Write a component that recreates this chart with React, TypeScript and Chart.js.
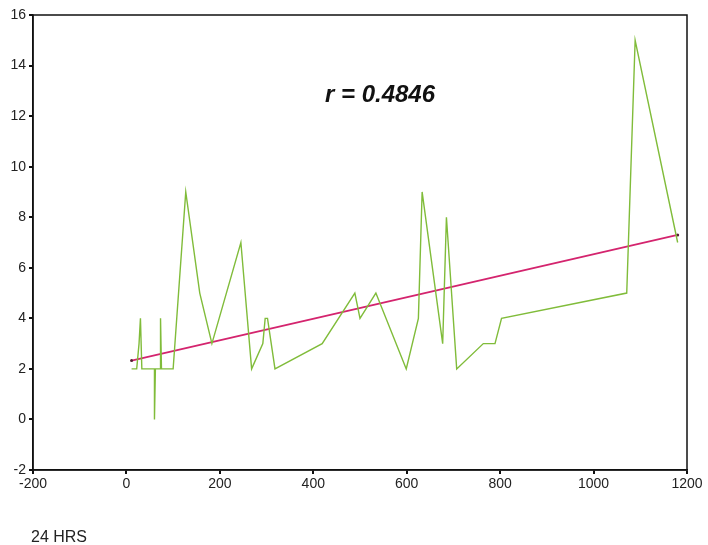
import React, { useEffect, useRef } from "react";
import { Chart, registerables } from "chart.js";

Chart.register(...registerables);

// Hours (x) and measured values (y) of the green series
const hrsX = [11, 22, 27, 30, 33, 60, 60, 62, 72, 73, 75, 100, 127, 157, 183, 245, 268, 292, 297, 302, 318, 419, 489, 500, 534, 599, 625, 633, 677, 685, 707, 764, 789, 803, 1071, 1089, 1180];
const values = [2, 2, 3, 4, 2, 2, 0, 2, 2, 4, 2, 2, 9, 5, 3, 7, 2, 3, 4, 4, 2, 3, 5, 4, 5, 2, 4, 9, 3, 8, 2, 3, 3, 4, 5, 15, 7];

// Fitted regression line ends
const fitX = [11, 1180];
const fitY = [2.33, 7.3];

const xTicks = [-200, 0, 200, 400, 600, 800, 1000, 1200];
const yTicks = [-2, 0, 2, 4, 6, 8, 10, 12, 14, 16];

const rLabel = "r = 0.4846";
const xTitle = "24 HRS";

export default function App() {
  const ref = useRef<HTMLCanvasElement>(null);

  useEffect(() => {
    document.body.style.margin = "0";
    const textPlugin = {
      id: "texts",
      afterDraw(chart: any) {
        const { ctx, chartArea } = chart;
        ctx.save();
        ctx.strokeStyle = "#111";
        ctx.lineWidth = 1.5;
        ctx.strokeRect(chartArea.left, chartArea.top, chartArea.right - chartArea.left, chartArea.bottom - chartArea.top);
        ctx.fillStyle = "#111";
        ctx.font = "italic bold 24px 'Liberation Sans', Arial, sans-serif";
        ctx.textAlign = "center";
        ctx.textBaseline = "middle";
        ctx.fillText(rLabel, 380, 95);
        ctx.font = "16px 'Liberation Sans', Arial, sans-serif";
        ctx.textAlign = "left";
        ctx.fillStyle = "#222";
        ctx.fillText(xTitle, 31, 538);
        ctx.restore();
      },
    };

    const chart = new Chart(ref.current!, {
      type: "scatter",
      data: {
        datasets: [
          {
            data: hrsX.map((x, i) => ({ x, y: values[i] })),
            showLine: true,
            borderColor: "#80bc3a",
            borderWidth: 1.4,
            pointRadius: 0,
            tension: 0,
          },
          {
            data: fitX.map((x, i) => ({ x, y: fitY[i] })),
            showLine: true,
            borderColor: "#d4246e",
            borderWidth: 1.8,
            pointRadius: 1.5,
            pointBackgroundColor: "#552233",
            pointBorderWidth: 0,
          },
        ],
      },
      options: {
        animation: false,
        responsive: false,
        layout: { padding: { left: 0, right: 21, top: 15, bottom: 45 } },
        plugins: { legend: { display: false }, tooltip: { enabled: false } },
        scales: {
          x: {
            type: "linear",
            min: -200,
            max: 1200,
            afterBuildTicks: (s: any) => { s.ticks = xTicks.map((v) => ({ value: v })); },
            afterFit: (s: any) => { s.height = 30; },
            grid: { display: true, drawOnChartArea: false, drawTicks: true, tickLength: 4, color: "#111", lineWidth: 2 },
            border: { display: true, color: "#111", width: 1.5 },
            ticks: {
              color: "#222",
              font: { family: "'Liberation Sans', Arial, sans-serif", size: 14 },
              padding: 2,
              maxRotation: 0,
              callback: (v: any) => String(v),
            },
          },
          y: {
            type: "linear",
            min: -2,
            max: 16,
            afterBuildTicks: (s: any) => { s.ticks = yTicks.map((v) => ({ value: v })); },
            afterFit: (s: any) => { s.width = 33; },
            grid: { display: true, drawOnChartArea: false, drawTicks: true, tickLength: 4, color: "#111", lineWidth: 2 },
            border: { display: true, color: "#111", width: 1.5 },
            ticks: {
              color: "#222",
              font: { family: "'Liberation Sans', Arial, sans-serif", size: 14 },
              padding: 3,
              callback: (v: any) => String(v),
            },
          },
        },
      },
      plugins: [textPlugin],
    });
    return () => chart.destroy();
  }, []);

  return (
    <div style={{ width: 708, height: 545 }}>
      <canvas ref={ref} width={708} height={545} style={{ display: "block" }} />
    </div>
  );
}
